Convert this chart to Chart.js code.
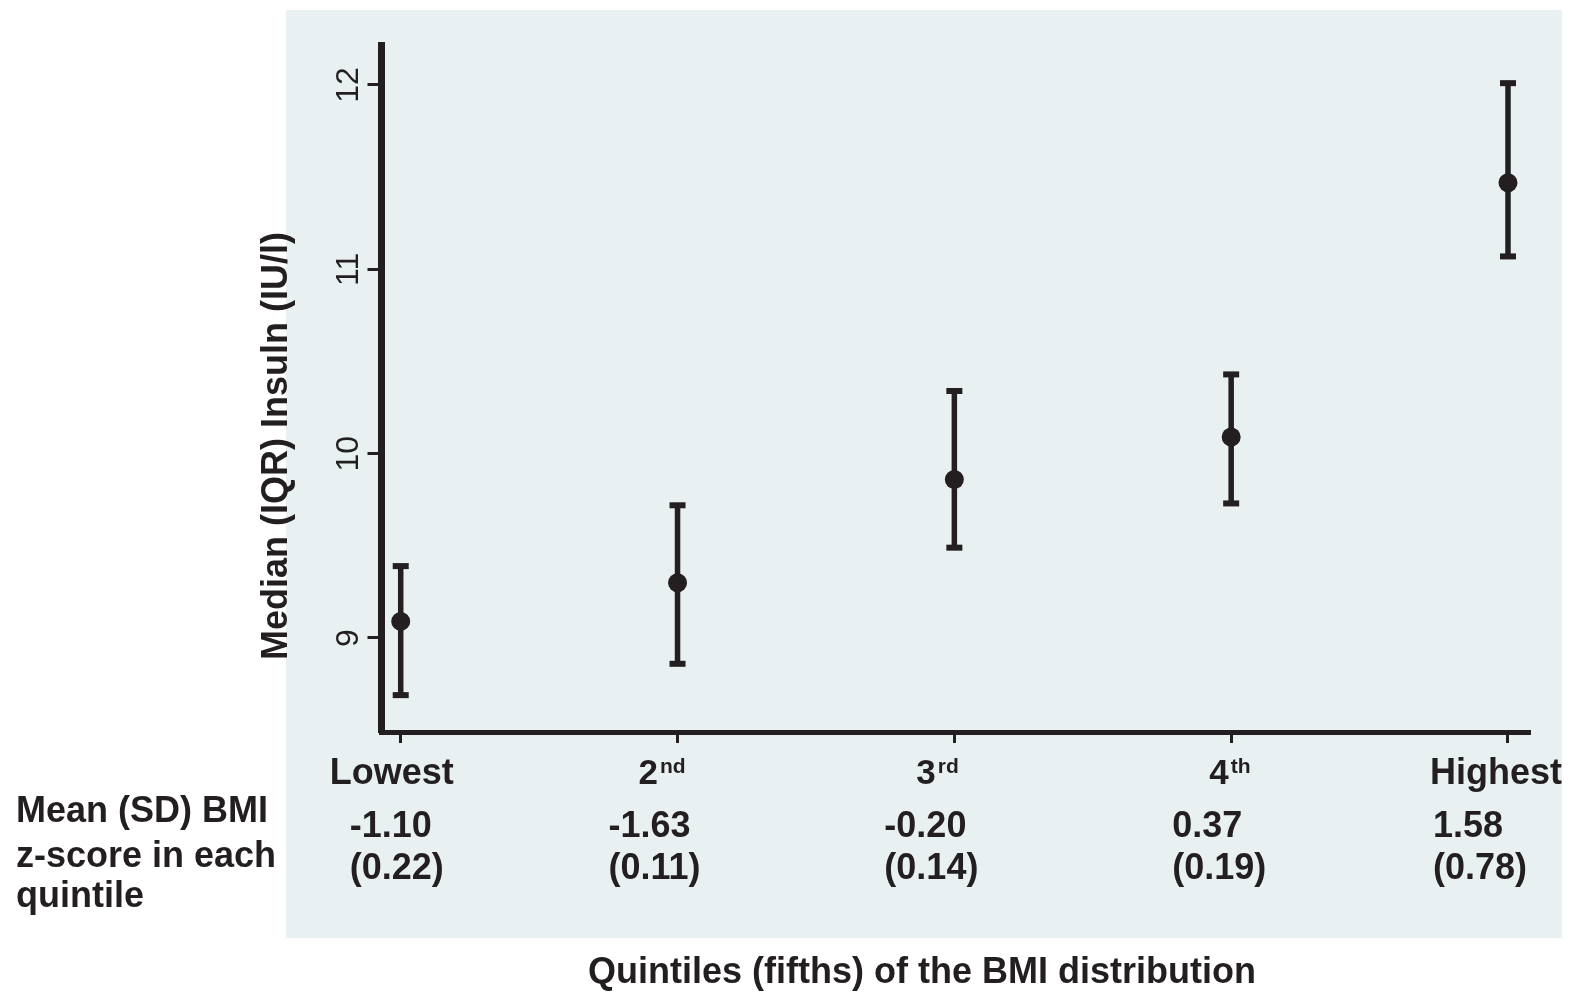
<!DOCTYPE html>
<html>
<head>
<meta charset="utf-8">
<script src="https://cdn.jsdelivr.net/npm/chart.js@4.4.1/dist/chart.umd.min.js"></script>
<style>
  html, body { margin: 0; padding: 0; background: #fff; }
  #wrap { width: 1573px; height: 993px; position: relative; }
</style>
</head>
<body>
<div id="wrap"><canvas id="myChart"></canvas></div>
<script>
// quintile data
const quintiles = ["Lowest", "2nd", "3rd", "4th", "Highest"];
const medianInsulin = [9.09, 9.30, 9.86, 10.09, 11.47];
const iqrLow = [8.69, 8.86, 9.49, 9.73, 11.07];
const iqrHigh = [9.39, 9.72, 10.34, 10.43, 12.01];
const bmiMean = ["-1.10", "-1.63", "-0.20", "0.37", "1.58"];
const bmiSD = ["(0.22)", "(0.11)", "(0.14)", "(0.19)", "(0.78)"];
const yTicks = [9, 10, 11, 12];

const ink = "#231f20";
const panel = "#e8f0f2";
const font = "'Liberation Sans', Arial, sans-serif";

// hand-placed label offsets (left edges) relative to each tick, as in the original
const catDx = [-71, -39, -38, -22, -78];
const valDx = [-51, -69, -70, -59, -75];

const errorBars = {
  id: "errorBars",
  beforeDraw(chart) {
    const c = chart.ctx;
    c.save();
    c.fillStyle = "#fff";
    c.fillRect(0, 0, chart.width, chart.height);
    c.fillStyle = panel;
    c.fillRect(286, 10, 1276, 928);
    c.restore();
  },
  beforeDatasetsDraw(chart) {
    const c = chart.ctx;
    const xs = chart.scales.x, ys = chart.scales.y;
    c.save();
    c.strokeStyle = ink;
    c.fillStyle = ink;
    c.lineWidth = 5.5;
    quintiles.forEach((q, i) => {
      const x = xs.getPixelForValue(i + 1);
      const lo = ys.getPixelForValue(iqrLow[i]);
      const hi = ys.getPixelForValue(iqrHigh[i]);
      c.beginPath();
      c.moveTo(x, lo);
      c.lineTo(x, hi);
      c.stroke();
      c.fillRect(x - 8, hi - 3, 16, 6);
      c.fillRect(x - 8, lo - 3, 16, 6);
    });
    c.restore();
  },
  afterDraw(chart) {
    const c = chart.ctx;
    const xs = chart.scales.x, ys = chart.scales.y;
    c.save();
    c.fillStyle = ink;

    // y tick labels, rotated
    c.font = `32px ${font}`;
    c.textAlign = "center";
    c.textBaseline = "alphabetic";
    yTicks.forEach(v => {
      c.save();
      c.translate(358, ys.getPixelForValue(v));
      c.rotate(-Math.PI / 2);
      c.fillText(String(v), 0, 0);
      c.restore();
    });

    // y axis title
    c.save();
    c.font = `bold 36px ${font}`;
    c.translate(287, 446);
    c.rotate(-Math.PI / 2);
    c.fillText("Median (IQR) Insuln (IU/l)", 0, 0);
    c.restore();

    // category labels with superscripts
    c.textAlign = "left";
    quintiles.forEach((q, i) => {
      const x = xs.getPixelForValue(i + 1) + catDx[i];
      const m = q.match(/^(\d)(\D+)$/);
      if (m) {
        c.font = `bold 35px ${font}`;
        c.fillText(m[1], x, 784);
        const w = c.measureText(m[1]).width;
        c.font = `bold 21px ${font}`;
        c.fillText(m[2], x + w + 2, 773);
      } else {
        c.font = `bold 36px ${font}`;
        c.fillText(q, x, 784);
      }
      c.font = `bold 36px ${font}`;
      const vx = xs.getPixelForValue(i + 1) + valDx[i];
      c.fillText(bmiMean[i], vx, 837);
      c.fillText(bmiSD[i], vx, 879);
    });

    // row header
    c.font = `bold 36px ${font}`;
    c.fillText("Mean (SD) BMI", 16, 822);
    c.fillText("z-score in each", 16, 867);
    c.fillText("quintile", 16, 907);

    // x axis title
    c.textAlign = "center";
    c.fillText("Quintiles (fifths) of the BMI distribution", 922, 983);
    c.restore();
  }
};

const ctx = document.getElementById("myChart").getContext("2d");
const insulinChart = new Chart(ctx, {
  type: "scatter",
  data: {
    datasets: [{
      data: quintiles.map((q, i) => ({ x: i + 1, y: medianInsulin[i] })),
      pointRadius: 9.5,
      pointHoverRadius: 9.5,
      backgroundColor: ink,
      borderWidth: 0
    }]
  },
  options: {
    responsive: true,
    maintainAspectRatio: false,
    animation: false,
    events: [],
    layout: { padding: { top: 45, right: 43, left: 0, bottom: 0 } },
    plugins: {
      legend: { display: false },
      tooltip: { enabled: false }
    },
    scales: {
      x: {
        type: "linear",
        min: 0.9306,
        max: 5.0795,
        afterBuildTicks: s => { s.ticks = quintiles.map((q, i) => ({ value: i + 1 })); },
        afterFit: s => { s.height = 261; },
        ticks: { display: false },
        grid: { drawOnChartArea: false, tickLength: 11, tickWidth: 3, tickColor: ink },
        border: { display: true, width: 5, color: ink }
      },
      y: {
        type: "linear",
        min: 8.49,
        max: 12.217,
        afterBuildTicks: s => { s.ticks = yTicks.map(v => ({ value: v })); },
        afterFit: s => { s.width = 381.5; },
        ticks: { display: false },
        grid: { drawOnChartArea: false, tickLength: 14, tickWidth: 3, tickColor: ink },
        border: { display: true, width: 7, color: ink }
      }
    }
  },
  plugins: [errorBars]
});
</script>
</body>
</html>
